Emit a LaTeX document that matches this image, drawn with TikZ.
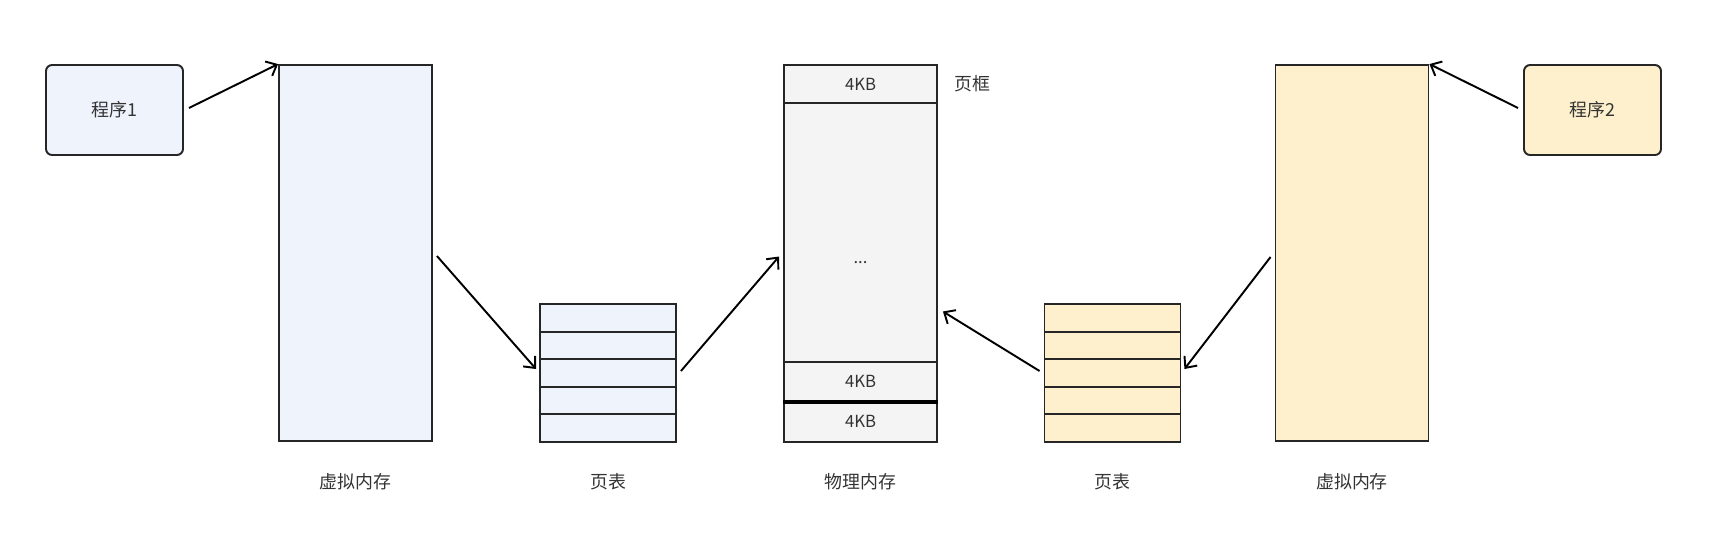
\documentclass[tikz,border=0pt]{standalone}
\usepackage{fontspec}
\setmainfont{Noto Sans CJK SC}
\usetikzlibrary{positioning, arrows.meta}
\definecolor{bluefill}{HTML}{EEF3FC}
\definecolor{yellowfill}{HTML}{FEF0CD}
\definecolor{grayfill}{HTML}{F4F4F4}
\definecolor{textgray}{HTML}{333333}

\begin{document}
\begin{tikzpicture}[
    % GLOBAL CFG
    x=0.02cm, y=-0.02cm,
    font=\fontsize{10.2}{12}\selectfont,
    text=textgray,
    >={Straight Barb[length=1.8mm,width=3.2mm]},
    % Styles
    prog/.style={% For programs
        rectangle,
        rounded corners=1.2mm,
        draw=black!85,
        line width=1.1pt,
        minimum width=2.74cm,
        minimum height=1.8cm,
    },
    vmem/.style={% For virtual memory
        rectangle,
        draw=black!85,
        line width=1.1pt,
        minimum width=3.06cm,
        minimum height=7.52cm,
    },
    entry/.style={% For page table rows
        rectangle,
        draw=black!85,
        line width=1.1pt,
        minimum width=2.72cm,
        minimum height=0.552cm,
        inner sep=0pt,
    },
    pframe/.style={% For physical memory frames
        rectangle,
        draw=black!85,
        line width=1.1pt,
        fill=grayfill,
        minimum width=3.06cm,
        inner sep=0pt,
        font=\fontsize{9.5}{11}\selectfont,
    },
    Arrow/.style={% Arrows
        ->,
        line width=1.1pt,
    },
    ]

    \useasboundingbox (0,0) rectangle (1711,552);

    % Draw programs
    \node [prog, fill=bluefill] (prog1) at (114.5,110) {程序1};
    \node [prog, fill=yellowfill] (prog2) at (1592.5,110) {程序2};

    % Draw virtual memory named vm#
    \node [vmem, fill=bluefill] (vm1) at (355.5,253) {};
    \node [vmem, fill=yellowfill] (vm2) at (1352,253) {};

    % Draw page tables named pt#r#
    \foreach \i in {1,...,5} {
        \node [entry, fill=bluefill] (pt1r\i) at (608, 304+27.6*\i-13.8) {};
        \node [entry, fill=yellowfill] (pt2r\i) at (1112.5, 304+27.6*\i-13.8) {};
    }

    % Draw physical memory
    \node [pframe, minimum height=0.76cm] (physTop) at (860.5,84) {4KB};
    \node [pframe, minimum height=5.18cm] (physMid) at (860.5,232.5) {};
    \node [pframe, minimum height=0.78cm] (physA) at (860.5,381.5) {4KB};
    \node [pframe, minimum height=0.82cm] (physB) at (860.5,421.5) {4KB};
    \draw [line width=2.2pt] (physA.south west) -- (physA.south east);
    \node [font=\fontsize{9.5}{11}\selectfont] (dots) at (860.5,263) {...};
    \node [right=0.2cm of physTop] (frameLbl) {页框};

    % Text
    \node (lbl1) at (355.5,482) {虚拟内存};
    \node (lbl2) at (608,482) {页表};
    \node (lbl3) at (860.5,482) {物理内存};
    \node (lbl4) at (1112.5,482) {页表};
    \node (lbl5) at (1352,482) {虚拟内存};

    % Connect all
    \draw [Arrow] ([shift={(5,-2)}]prog1.east) -- (vm1.north west);
    \draw [Arrow] ([shift={(4,3)}]vm1.east) -- ([shift={(-3,-4)}]pt1r3.west);
    \draw [Arrow] ([shift={(4,-2)}]pt1r3.east) -- ([shift={(-4,24)}]physMid.west);
    \draw [Arrow] ([shift={(-4,-2)}]pt2r3.west) -- ([shift={(5,79)}]physMid.east);
    \draw [Arrow] ([shift={(-4,4)}]vm2.west) -- ([shift={(3,-4)}]pt2r3.east);
    \draw [Arrow] ([shift={(-5,-2)}]prog2.west) -- (vm2.north east);

\end{tikzpicture}
\end{document}
